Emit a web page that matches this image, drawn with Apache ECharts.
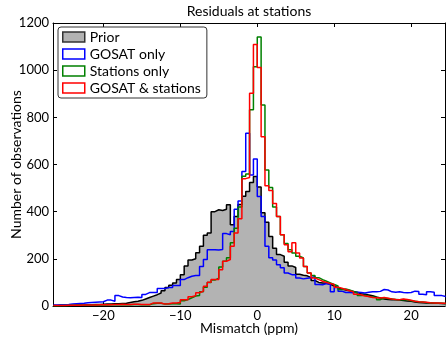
<!DOCTYPE html>
<html>
<head>
<meta charset="utf-8">
<script src="https://cdn.jsdelivr.net/npm/echarts@6/dist/echarts.min.js"></script>
<style>
  html, body { margin: 0; padding: 0; background: #fff; }
  #chart { width: 446px; height: 337px; }
</style>
</head>
<body>
<div id="chart"></div>
<script>
// histogram bins: 0.5 ppm wide, first left edge at -26.5
const binStart = -26.5;
const binWidth = 0.5;

const seriesNames = ["Prior", "GOSAT only", "Stations only", "GOSAT & stations"];

// counts per bin (rows: -26.5.., -20.., -15.., -10.., -5.., 0.., 5.., 10.., 15.., 20..)
const prior = [
  2, 2, 3, 3, 3, 4, 4, 4, 5, 5, 6, 6, 7,
  8, 9, 10, 10, 11, 12, 15, 18, 20, 24,
  30, 36, 42, 48, 55, 65, 78, 88, 98, 112,
  133, 170, 195, 200, 226, 253, 300, 310, 400, 408,
  405, 410, 429, 345, 380, 430, 465, 485, 524, 549,
  505, 395, 355, 295, 245, 218, 211, 185, 170, 163,
  135, 130, 128, 120, 108, 100, 98, 96, 92, 85,
  78, 72, 68, 65, 62, 58, 52, 50, 47, 44,
  38, 34, 30, 28, 27, 26, 25, 23, 21, 20,
  17, 15, 14, 13, 13, 12, 12, 11, 10
];
const gosatOnly = [
  4, 5, 5, 6, 8, 10, 11, 12, 14, 15, 16, 17, 18,
  25, 25, 20, 44, 38, 36, 35, 36, 37, 36,
  49, 57, 57, 57, 74, 74, 78, 78, 87, 87,
  112, 120, 126, 129, 129, 168, 197, 239, 239, 237,
  240, 307, 302, 316, 410, 445, 570, 732, 556, 623,
  464, 380, 253, 205, 195, 175, 162, 140, 133, 133,
  119, 115, 118, 120, 125, 91, 90, 95, 91, 60,
  78, 63, 57, 57, 56, 58, 57, 55, 58, 60,
  60, 62, 70, 68, 60, 58, 60, 57, 56, 57,
  63, 62, 50, 48, 60, 58, 45, 44, 40
];
const stationsOnly = [
  1, 2, 2, 2, 3, 3, 3, 3, 4, 4, 4, 4, 4,
  4, 5, 5, 5, 6, 5, 5, 6, 6, 5,
  5, 5, 10, 12, 12, 8, 8, 10, 10, 8,
  22, 27, 35, 42, 45, 60, 80, 100, 110, 118,
  165, 190, 205, 268, 330, 420, 550, 560, 832, 1015,
  1141, 852, 577, 503, 420, 379, 302, 265, 239, 225,
  211, 204, 168, 140, 129, 120, 112, 105, 98, 91,
  85, 70, 72, 68, 62, 55, 44, 46, 40, 38,
  36, 27, 34, 32, 30, 28, 26, 28, 25, 22,
  20, 18, 17, 15, 14, 13, 12, 12, 11
];
const gosatStations = [
  2, 2, 2, 3, 3, 3, 3, 4, 4, 4, 4, 5, 5,
  5, 5, 6, 6, 7, 6, 6, 7, 7, 6,
  6, 6, 13, 13, 13, 8, 10, 13, 13, 15,
  27, 27, 39, 44, 56, 63, 84, 101, 112, 112,
  154, 190, 197, 253, 310, 370, 540, 545, 902, 1109,
  1011, 718, 510, 490, 435, 379, 302, 260, 230, 268,
  225, 204, 168, 140, 119, 112, 105, 100, 95, 91,
  80, 75, 70, 65, 60, 50, 48, 42, 40, 36,
  35, 34, 36, 33, 30, 28, 27, 30, 28, 24,
  20, 18, 17, 16, 14, 13, 13, 12, 12
];

const xTicks = [-20, -10, 0, 10, 20];
const yTicks = [0, 200, 400, 600, 800, 1000, 1200];

const colors = ["#000000", "#0000ff", "#008000", "#ff0000"];
const font = "Lato";

// turn bin counts into step points (left edges + closing right edge)
function toSteps(values) {
  const pts = values.map((v, i) => [binStart + i * binWidth, v]);
  pts.push([binStart + values.length * binWidth, values[values.length - 1]]);
  return pts;
}

const myChart = echarts.init(document.getElementById("chart"));

const frameAxis = {
  axisLine: { show: true, onZero: false, lineStyle: { color: "#000", width: 1 } },
  axisTick: { show: true, inside: true, length: 4, lineStyle: { color: "#000" } },
  splitLine: { show: false },
  nameMoveOverlap: false,
};

const xRange = { type: "value", min: -26.55, max: 24.4 };

const options = {
  animation: false,
  grid: { left: 53, right: 1, top: 23, bottom: 31, containLabel: false, outerBoundsMode: "none" },
  legend: {
    orient: "vertical",
    left: 58,
    top: 27,
    padding: [3, 6, 3, 4],
    itemGap: 3,
    itemWidth: 22,
    itemHeight: 10,
    icon: "rect",
    borderColor: "#333",
    borderWidth: 1,
    borderRadius: 3,
    backgroundColor: "#fff",
    textStyle: { fontFamily: font, fontSize: 14, color: "#000", lineHeight: 14 },
    data: seriesNames.map((name, i) => ({
      name: name,
      itemStyle: {
        color: i === 0 ? "#b3b3b3" : "#fff",
        borderColor: i === 0 ? "#333" : colors[i],
        borderWidth: 1.5,
      },
    })),
  },
  xAxis: [
    {
      ...xRange,
      ...frameAxis,
      position: "bottom",
      name: "Mismatch (ppm)",
      nameLocation: "middle",
      nameGap: 15,
      nameTextStyle: { fontFamily: font, fontSize: 14, color: "#000" },
      axisLabel: {
        color: "#000",
        fontFamily: font,
        fontSize: 13,
        margin: 3,
        showMinLabel: false,
        showMaxLabel: false,
        formatter: (v) => (xTicks.includes(v) ? String(v).replace("-", "\u2212") : ""),
      },
    },
    {
      ...xRange,
      ...frameAxis,
      position: "top",
      name: "Residuals at stations",
      nameLocation: "middle",
      nameGap: 5,
      nameTextStyle: { fontFamily: font, fontSize: 14, color: "#000" },
      axisLabel: { show: false },
    },
  ],
  yAxis: [
    {
      type: "value",
      min: 0,
      max: 1200,
      interval: 200,
      ...frameAxis,
      position: "left",
      name: "Number of observations",
      nameLocation: "middle",
      nameGap: 30,
      nameTextStyle: { fontFamily: font, fontSize: 14, color: "#000" },
      axisLabel: {
        color: "#000",
        fontFamily: font,
        fontSize: 13,
        margin: 4,
        formatter: (v) => (yTicks.includes(v) ? String(v) : ""),
      },
    },
    {
      type: "value",
      min: 0,
      max: 1200,
      interval: 200,
      ...frameAxis,
      position: "right",
      axisLabel: { show: false },
    },
  ],
  series: [prior, gosatOnly, stationsOnly, gosatStations].map((vals, i) => ({
    name: seriesNames[i],
    type: "line",
    step: "end",
    data: toSteps(vals),
    symbol: "none",
    itemStyle: { color: i === 0 ? "#b3b3b3" : colors[i] },
    lineStyle: { color: colors[i], width: 1.5 },
    areaStyle: i === 0 ? { color: "#b3b3b3", opacity: 1 } : undefined,
    z: 2 + i,
  })),
};

myChart.setOption(options);
</script>
</body>
</html>
